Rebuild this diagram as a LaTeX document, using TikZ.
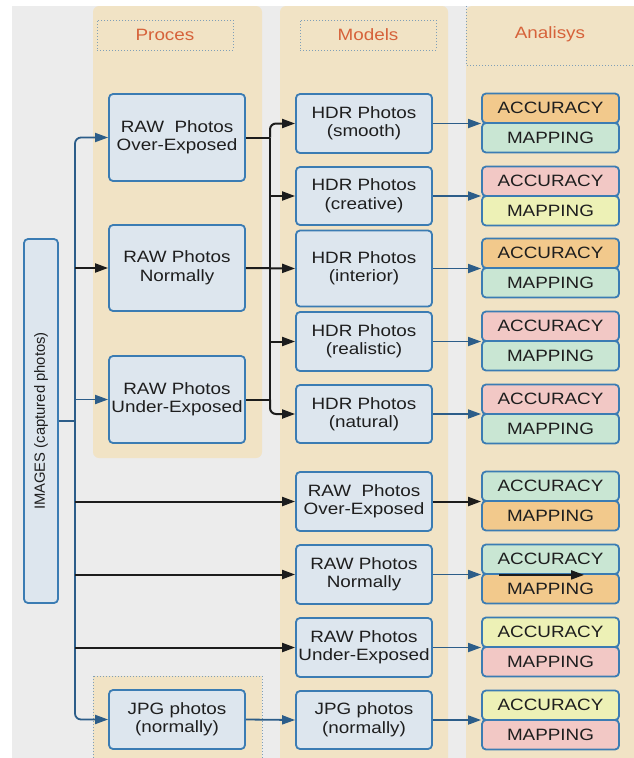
\documentclass[tikz,border=0pt]{standalone}
\usepackage{fontspec}
\setmainfont{Liberation Sans}[FakeStretch=1.15]
\newfontfamily\rotfont{Liberation Sans}
\usetikzlibrary{arrows.meta,calc}
\definecolor{bggray}{HTML}{ECECEC}
\definecolor{lanec}{HTML}{F1E3C5}
\definecolor{boxfill}{HTML}{DDE6EE}
\definecolor{boxline}{HTML}{3B7CB3}
\definecolor{txt}{HTML}{1E1E1E}
\definecolor{hdrtxt}{HTML}{D6623A}
\definecolor{dotc}{HTML}{7F9FB8}
\definecolor{trunkc}{HTML}{2C5D89}
\definecolor{blkc}{HTML}{1C1C1C}
\definecolor{corange}{HTML}{F2C98C}
\definecolor{cgreen}{HTML}{C9E6D3}
\definecolor{cpink}{HTML}{F2C8C5}
\definecolor{cyellow}{HTML}{EDF1B6}
\begin{document}
\begin{tikzpicture}[x=1pt,y=-1pt,
  >={Triangle[length=13pt,width=9pt]},
  box/.style={draw=boxline, fill=boxfill, line width=1.8pt, rounded corners=4pt,
    minimum width=136pt, inner sep=0pt, text=txt, align=center,
    font=\fontsize{16.4}{18.5}\selectfont},
  cell/.style={draw=boxline, line width=1.8pt, rounded corners=4pt,
    minimum width=137pt, minimum height=29.5pt, inner sep=0pt, text=txt,
    font=\fontsize{16.4}{18.5}\selectfont},
  hdr/.style={draw=dotc, dotted, line width=1pt, minimum width=136pt,
    minimum height=30pt, inner sep=0pt, text=hdrtxt,
    font=\fontsize{16.4}{18.5}\selectfont},
  trunk/.style={draw=trunkc, line width=1.8pt},
  blk/.style={draw=blkc, line width=2pt},
  bl/.style={draw=trunkc, line width=1.7pt},
  lane/.style={fill=lanec}
]
\useasboundingbox (0,0) rectangle (633,758);
\fill[white] (0,0) rectangle (633,758);
\fill[bggray] (12,6) rectangle (633,758);
% lanes
\fill[lane, rounded corners=6pt] (93,6) rectangle (262,458);
\fill[lane, rounded corners=6pt] (280,6) rectangle (448,775);
\fill[lane, rounded corners=6pt] (466,6) rectangle (650,775);
\filldraw[lane, draw=dotc, dotted, line width=1pt] (93,676) rectangle (262,775);
% headers
\node[hdr] (hproc) at (165,35) {Proces};
\node[hdr] (hmod) at (368,35) {Models};
\draw[draw=dotc, dotted, line width=1pt] (466,6) -- (466,65) -- (640,65);
\node[text=hdrtxt, font=\fontsize{16.4}{18.5}\selectfont] (hana) at (550,34) {Analisys};

% images
\node[box, minimum width=34pt, minimum height=364pt] (img) at (41,421) {};
\node[rotate=90, text=txt, font=\rotfont\fontsize{14.8}{17}\selectfont] (imgt) at (img.center) {IMAGES (captured photos)};

% proces column
\node[box, minimum height=87pt] (pover) at (177,137.5) {RAW~ Photos\\Over-Exposed};
\node[box, minimum height=86pt] (pnorm) at (177,268) {RAW Photos\\Normally};
\node[box, minimum height=87pt] (punder) at (177,399.5) {RAW Photos\\Under-Exposed};
\node[box, minimum height=59pt] (pjpg) at (177,719.5) {JPG photos\\(normally)};

% models column
\node[box, minimum height=59pt] (hsmooth) at (364,123.5) {HDR Photos\\(smooth)};
\node[box, minimum height=58pt] (hcre) at (364,196) {HDR Photos\\(creative)};
\node[box, minimum height=76pt] (hint) at (364,268.5) {HDR Photos\\(interior)};
\node[box, minimum height=59pt] (hreal) at (364,341.5) {HDR Photos\\(realistic)};
\node[box, minimum height=58pt] (hnat) at (364,414) {HDR Photos\\(natural)};
\node[box, minimum height=59pt] (mover) at (364,501.5) {RAW~ Photos\\Over-Exposed};
\node[box, minimum height=59pt] (mnorm) at (364,574.5) {RAW Photos\\Normally};
\node[box, minimum height=59pt] (munder) at (364,647.5) {RAW Photos\\Under-Exposed};
\node[box, minimum height=58pt] (mjpg) at (364,720) {JPG photos\\(normally)};

% analysis pairs
\foreach \n/\b/\ca/\cm in {1/123/corange/cgreen, 2/196/cpink/cyellow, 3/268/corange/cgreen,
    4/341/cpink/cgreen, 5/414/cpink/cgreen, 6/501/cgreen/corange, 7/574/cgreen/corange,
    8/647/cyellow/cpink, 9/720/cyellow/cpink}{
  \node[cell, fill=\ca] (a\n) at (550.5,\b-14.75) {ACCURACY};
  \node[cell, fill=\cm] (m\n) at (550.5,\b+14.75) {MAPPING};
}

% trunk from images
\coordinate (tx) at (75,0);
\draw[trunk] (img.east) -- (tx |- img.east);
\draw[trunk, rounded corners=6pt, ->] (tx |- img.east) -- (tx |- pover.west) -- (pover.west);
\draw[trunk, rounded corners=6pt, ->] (tx |- img.east) -- (tx |- pjpg.west) -- (pjpg.west);
\draw[blk, ->] (tx |- pnorm.west) -- (pnorm.west);
\draw[trunk, ->] (tx |- punder.west) -- (punder.west);
\draw[blk, ->] (tx |- mover.west) -- (mover.west);
\draw[blk, ->] (tx |- mnorm.west) -- (mnorm.west);
\draw[blk, ->] (tx |- munder.west) -- (munder.west);
\draw[trunk, ->] (pjpg.east) -- (mjpg.west);

% HDR bus
\coordinate (hx) at (270,0);
\draw[blk] (pover.east) -- (hx |- pover.east);
\draw[blk, rounded corners=6pt, ->] (hx |- pover.east) -- (hx |- hsmooth.west) -- (hsmooth.west);
\draw[blk] (hx |- pover.east) -- (hx |- punder.east);
\draw[blk, rounded corners=6pt, ->] (hx |- punder.east) -- (hx |- hnat.west) -- (hnat.west);
\draw[blk] (punder.east) -- (hx |- punder.east);
\draw[blk, ->] (hx |- hcre.west) -- (hcre.west);
\draw[blk, ->] (pnorm.east) -- (hint.west);
\draw[blk, ->] (hx |- hreal.west) -- (hreal.west);

% models -> analysis
\draw[bl, ->] (hsmooth.east) -- (hsmooth.east -| a1.west);
\draw[bl, ->] (hcre.east) -- (hcre.east -| a2.west);
\draw[bl, ->] (hint.east) -- (hint.east -| a3.west);
\draw[bl, ->] (hreal.east) -- (hreal.east -| a4.west);
\draw[bl, ->] (hnat.east) -- (hnat.east -| a5.west);
\draw[blk, ->] (mover.east) -- (mover.east -| a6.west);
\draw[bl, ->] (mnorm.east) -- (mnorm.east -| a7.west);
\draw[bl, ->] (munder.east) -- (munder.east -| a8.west);
\draw[bl, ->] (mjpg.east) -- (mjpg.east -| a9.west);
% stray arrow inside pair 7
\coordinate (s1) at ($(a7.south west)+(18,0)$);
\coordinate (s2) at ($(a7.south west)+(103,0)$);
\draw[blk, ->] (s1) -- (s2);
\end{tikzpicture}
\end{document}
